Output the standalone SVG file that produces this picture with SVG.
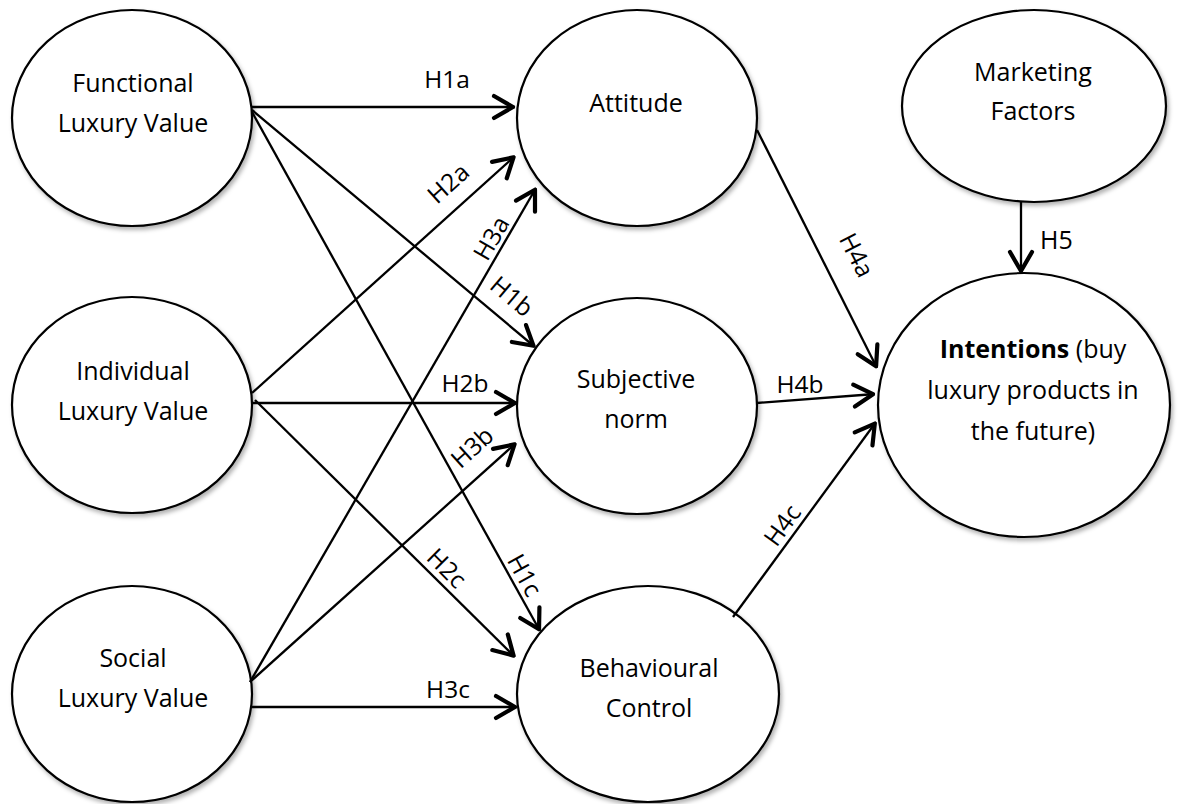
<svg xmlns="http://www.w3.org/2000/svg" width="1187" height="804" viewBox="0 0 1187 804">
  <defs>
    <filter id="shadow" x="-10%" y="-10%" width="125%" height="130%">
      <feDropShadow dx="2" dy="3" stdDeviation="2" flood-color="#000" flood-opacity="0.3"/>
    </filter>
    <marker id="arrow" viewBox="-26 -15 30 30" refX="0" refY="0" markerWidth="30" markerHeight="30" markerUnits="userSpaceOnUse" orient="auto">
      <path d="M-21,-11 L-2,0 L-21,11" fill="none" stroke="#000" stroke-width="4.2" stroke-linecap="round" stroke-linejoin="round"/>
    </marker>
    <style>
      .node ellipse { fill: #fff; stroke: #000; stroke-width: 2.2; filter: url(#shadow); }
      text { font-family: "Open Sans", "Liberation Sans", sans-serif; font-size: 25px; fill: #000; }
      .node text { text-anchor: middle; }
      .edges path { fill: none; stroke: #000; stroke-width: 2.3; }
      .edges path.arr { marker-end: url(#arrow); }
      .lbl { text-anchor: middle; font-size: 24.5px; }
    </style>
  </defs>

  <!-- nodes -->
  <g id="functional" class="node">
    <ellipse cx="132" cy="118" rx="120" ry="108"/>
    <text x="133" y="92">Functional</text>
    <text x="133" y="132">Luxury Value</text>
  </g>
  <g id="individual" class="node">
    <ellipse cx="132" cy="405" rx="120" ry="108"/>
    <text x="133" y="380">Individual</text>
    <text x="133" y="420">Luxury Value</text>
  </g>
  <g id="social" class="node">
    <ellipse cx="132" cy="694" rx="120" ry="108"/>
    <text x="133" y="667">Social</text>
    <text x="133" y="707">Luxury Value</text>
  </g>
  <g id="attitude" class="node">
    <ellipse cx="637" cy="118" rx="120" ry="108"/>
    <text x="636" y="112">Attitude</text>
  </g>
  <g id="subjective-norm" class="node">
    <ellipse cx="637" cy="406" rx="120" ry="108"/>
    <text x="636" y="388">Subjective</text>
    <text x="636" y="428">norm</text>
  </g>
  <g id="behavioural-control" class="node">
    <ellipse cx="648" cy="694" rx="131" ry="108"/>
    <text x="649" y="677">Behavioural</text>
    <text x="649" y="717">Control</text>
  </g>
  <g id="marketing-factors" class="node">
    <ellipse cx="1034" cy="106" rx="132" ry="96"/>
    <text x="1033" y="81">Marketing</text>
    <text x="1033" y="120">Factors</text>
  </g>
  <g id="intentions" class="node">
    <ellipse cx="1024" cy="405" rx="146" ry="132"/>
    <text x="1033" y="358"><tspan font-weight="bold">Intentions</tspan> (buy</text>
    <text x="1033" y="399">luxury products in</text>
    <text x="1033" y="440">the future)</text>
  </g>

  <!-- connectors -->
  <g id="connectors" class="edges">
    <path class="arr" d="M252,107 L515,107"/>
    <path class="arr" d="M252,393 L515,156"/>
    <path class="arr" d="M250,682 L536,188"/>
    <path class="arr" d="M252,110 L535,347"/>
    <path class="arr" d="M252,403 L517,403"/>
    <path class="arr" d="M250,682 L516,443"/>
    <path class="arr" d="M252,112 L540,631"/>
    <path class="arr" d="M255,400 L515,657"/>
    <path class="arr" d="M252,707 L517,707"/>
    <path class="arr" d="M757,130 L877,368"/>
    <path class="arr" d="M757,403 L875,394"/>
    <path class="arr" d="M733,617 L876,422"/>
    <path class="arr" d="M1021,202 L1021,273"/>
  </g>

  <!-- hypothesis labels -->
  <g id="labels">
    <text class="lbl" x="447" y="88">H1a</text>
    <text class="lbl" transform="translate(448,183) rotate(-42)" y="9">H2a</text>
    <text class="lbl" transform="translate(491,238) rotate(-60)" y="9">H3a</text>
    <text class="lbl" transform="translate(512,296) rotate(40)" y="9">H1b</text>
    <text class="lbl" x="465" y="392">H2b</text>
    <text class="lbl" transform="translate(472,447) rotate(-42)" y="9">H3b</text>
    <text class="lbl" transform="translate(447,568) rotate(45)" y="9">H2c</text>
    <text class="lbl" transform="translate(525,575) rotate(61)" y="9">H1c</text>
    <text class="lbl" x="448" y="698">H3c</text>
    <text class="lbl" transform="translate(857,255) rotate(63)" y="9">H4a</text>
    <text class="lbl" x="800" y="393">H4b</text>
    <text class="lbl" transform="translate(782,525) rotate(-54)" y="9">H4c</text>
    <text x="1040" y="249">H5</text>
  </g>
</svg>
